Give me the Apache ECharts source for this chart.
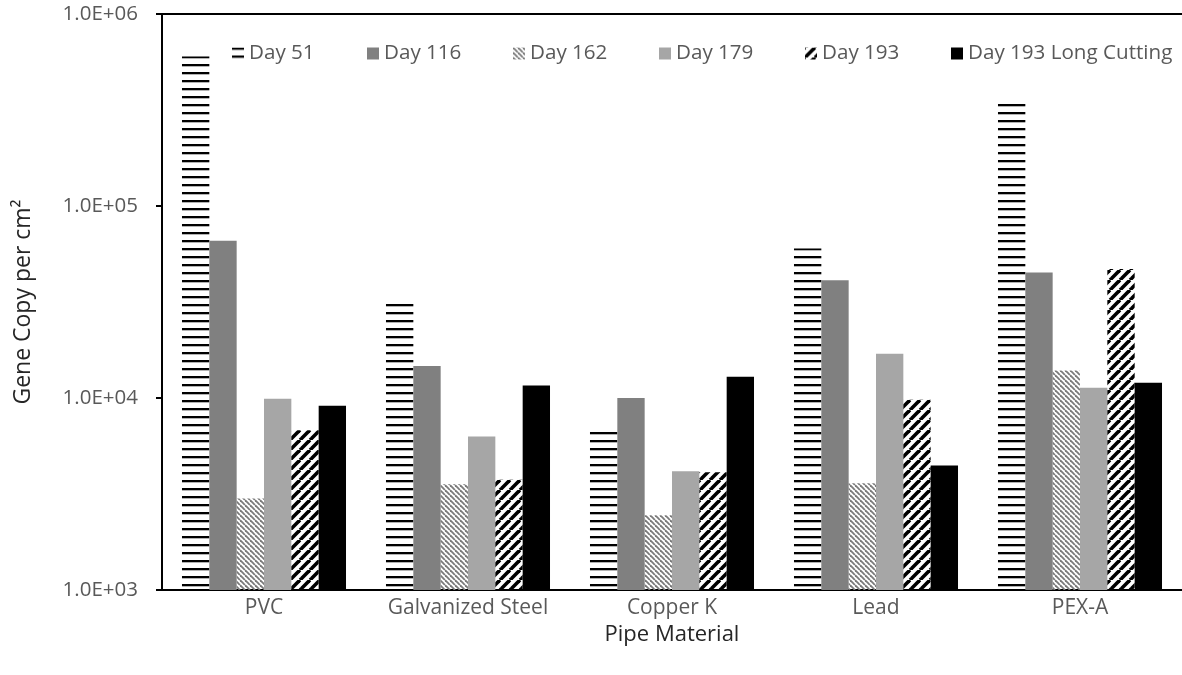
<!DOCTYPE html>
<html>
<head>
<meta charset="utf-8">
<style>
html,body{margin:0;padding:0;background:#fff;}
#chart{width:1182px;height:675px;}
</style>
<script src="https://cdn.jsdelivr.net/npm/echarts@6/dist/echarts.min.js"></script>
</head>
<body>
<div id="chart"></div>
<script>
// ---- data ----
var categories = ['PVC', 'Galvanized Steel', 'Copper K', 'Lead', 'PEX-A'];
var seriesNames = ['Day 51', 'Day 116', 'Day 162', 'Day 179', 'Day 193', 'Day 193 Long Cutting'];
var day51  = [600000, 31000, 6700, 60000, 340000];
var day116 = [66000, 14700, 10000, 41000, 45000];
var day162 = [3000, 3550, 2450, 3600, 13900];
var day179 = [9900, 6300, 4150, 17000, 11300];
var day193 = [6800, 3750, 4100, 9800, 47000];
var day193LC = [9100, 11600, 12900, 4450, 12000];
var yTicks = [1000, 10000, 100000, 1000000];
var legendLeft = [227, 362, 508, 654, 800, 946];

// ---- patterns ----
function makeTile(w, h, draw) {
  var c = document.createElement('canvas');
  c.width = w; c.height = h;
  var ctx = c.getContext('2d');
  draw(ctx, w, h);
  return { image: c, repeat: 'repeat' };
}
var hStripes = makeTile(8, 8, function (ctx, w, h) {
  ctx.fillStyle = '#000';
  ctx.fillRect(0, 0, w, 2.3);
});
var lightHatch = makeTile(5, 5, function (ctx, w, h) {
  ctx.strokeStyle = '#7a7a7a';
  ctx.lineWidth = 1.8;
  for (var k = -1; k <= 1; k++) {
    ctx.beginPath();
    ctx.moveTo(k * w, 0);
    ctx.lineTo(k * w + w, h);
    ctx.stroke();
  }
});
var boldDiag = makeTile(10, 10, function (ctx, w, h) {
  ctx.strokeStyle = '#000';
  ctx.lineWidth = 3.6;
  for (var k = -1; k <= 1; k++) {
    ctx.beginPath();
    ctx.moveTo(k * w, h);
    ctx.lineTo(k * w + w, 0);
    ctx.stroke();
  }
});

var seriesData = [day51, day116, day162, day179, day193, day193LC];
var seriesColors = [hStripes, '#808080', lightHatch, '#a6a6a6', boldDiag, '#000000'];

var font = 'Open Sans';
var gray = '#595959';

var series = seriesNames.map(function (name, i) {
  return {
    name: name,
    type: 'bar',
    data: seriesData[i],
    barGap: '0%',
    barCategoryGap: '19.6%',
    itemStyle: { color: seriesColors[i] },
    emphasis: { disabled: true }
  };
});

var legends = seriesNames.map(function (name, i) {
  return {
    data: [name],
    left: legendLeft[i],
    top: 38,
    itemWidth: 12,
    itemHeight: 12,
    itemGap: 0,
    icon: 'rect',
    itemTextGap: 5,
    selectedMode: false,
    textStyle: { fontFamily: font, fontSize: 20.6, color: gray }
  };
});

function fmt(v) {
  var e = Math.round(Math.log10(v));
  return '1.0E+' + (e < 10 ? '0' : '') + e;
}

var chart = echarts.init(document.getElementById('chart'), null, { renderer: 'canvas' });
chart.setOption({
  animation: false,
  backgroundColor: '#fff',
  grid: { left: 162, right: 0, top: 14, bottom: 85 },
  legend: legends,
  xAxis: [{
    type: 'category',
    data: categories,
    axisLine: { lineStyle: { color: '#000', width: 2 } },
    axisTick: { show: false },
    axisLabel: { fontFamily: font, fontSize: 21, color: gray, margin: 8, interval: 0 },
    name: 'Pipe Material',
    nameLocation: 'middle',
    nameGap: 31,
    nameTextStyle: { fontFamily: font, fontSize: 22, color: '#262626' }
  }, {
    type: 'category',
    position: 'top',
    data: categories,
    axisLine: { lineStyle: { color: '#000', width: 2 } },
    axisTick: { show: false },
    axisLabel: { show: false }
  }],
  yAxis: {
    type: 'log',
    logBase: 10,
    min: yTicks[0],
    max: yTicks[yTicks.length - 1],
    splitLine: { show: false },
    axisLine: { show: true, lineStyle: { color: '#000', width: 2 } },
    axisTick: { show: true, length: 6, lineStyle: { color: '#000', width: 2 } },
    axisLabel: { fontFamily: font, fontSize: 20.5, color: gray, margin: 24, formatter: fmt },
    name: 'Gene Copy per cm²',
    nameLocation: 'middle',
    nameGap: 127,
    nameTextStyle: { fontFamily: font, fontSize: 23, color: '#262626' }
  },
  series: series
});
</script>
</body>
</html>
